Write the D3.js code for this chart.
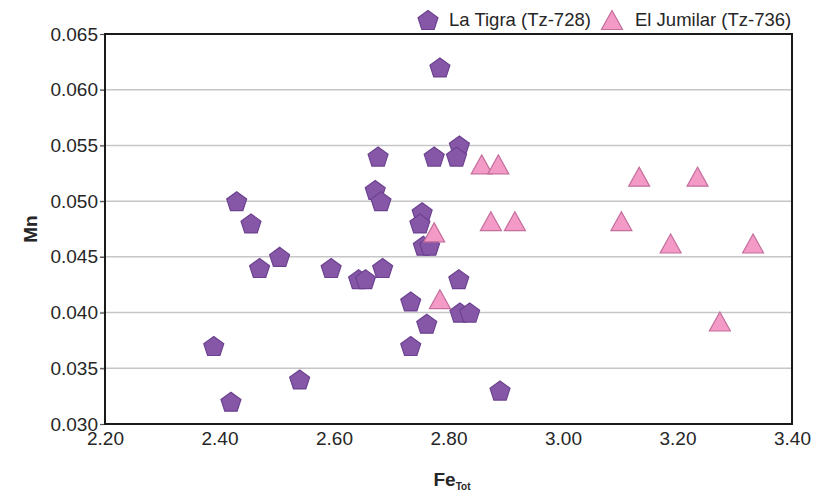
<!DOCTYPE html>
<html>
<head>
<meta charset="utf-8">
<script src="https://cdn.jsdelivr.net/npm/d3@7"></script>
<style>
  html, body { margin: 0; padding: 0; background: #fff; }
  svg { display: block; font-family: "Liberation Sans", Arial, sans-serif; }
</style>
</head>
<body>
<svg id="chart" width="820" height="496"></svg>
<script>
// ---- data ----
const laTigraFe = [2.39, 2.42, 2.43, 2.455, 2.47, 2.505, 2.54, 2.595, 2.643, 2.655, 2.685, 2.672, 2.682, 2.677,
                   2.734, 2.734, 2.785, 2.775, 2.819, 2.814, 2.754, 2.750, 2.756, 2.767, 2.818, 2.820, 2.837, 2.762, 2.890];
const laTigraMn = [0.037, 0.032, 0.050, 0.048, 0.044, 0.045, 0.034, 0.044, 0.043, 0.043, 0.044, 0.051, 0.050, 0.054,
                   0.041, 0.037, 0.062, 0.054, 0.055, 0.054, 0.049, 0.048, 0.046, 0.046, 0.043, 0.040, 0.040, 0.039, 0.033];
const jumilarFe = [2.858, 2.887, 3.133, 3.235, 2.874, 2.916, 3.102, 3.188, 3.332, 3.274, 2.775, 2.785];
const jumilarMn = [0.0533, 0.0533, 0.0522, 0.0522, 0.0482, 0.0482, 0.0482, 0.0462, 0.0462, 0.0392, 0.0472, 0.0412];
const xTicks = [2.20, 2.40, 2.60, 2.80, 3.00, 3.20, 3.40];
const yTicks = [0.030, 0.035, 0.040, 0.045, 0.050, 0.055, 0.060, 0.065];
const seriesNames = ["La Tigra (Tz-728)", "El Jumilar (Tz-736)"];

// ---- layout ----
const svg = d3.select("#chart");
const L = 105, R = 792, T = 34, B = 424;
const x = d3.scaleLinear().domain([2.2, 3.4]).range([L, R]);
const y = d3.scaleLinear().domain([0.030, 0.065]).range([B, T]);

const purpleFill = "#8757a7", purpleStroke = "#6c4290";
const pinkFill = "#f39ac7", pinkStroke = "#c46e9c";
const textCol = "#262626";

// gridlines
svg.append("g")
  .selectAll("line").data(yTicks.slice(1, -1)).join("line")
  .attr("x1", L - 5).attr("x2", R)
  .attr("y1", d => y(d)).attr("y2", d => y(d))
  .attr("stroke", "#c6c6c6").attr("stroke-width", 1.5);

// y axis
const yAxis = svg.append("g").attr("transform", `translate(${L},0)`)
  .call(d3.axisLeft(y).tickValues(yTicks).tickFormat(d3.format(".3f")).tickSize(5).tickPadding(2));
yAxis.select(".domain").remove();
yAxis.selectAll(".tick line").attr("stroke", "#555").attr("stroke-width", 1.2);
yAxis.selectAll("text").attr("font-size", 19).attr("fill", textCol)
  .attr("font-family", "'Liberation Sans', Arial, sans-serif");

// x axis
const xAxis = svg.append("g").attr("transform", `translate(0,${B})`)
  .call(d3.axisBottom(x).tickValues(xTicks).tickFormat(d3.format(".2f")).tickSize(0).tickPadding(8));
xAxis.select(".domain").remove();
xAxis.selectAll("text").attr("font-size", 19).attr("fill", textCol)
  .attr("font-family", "'Liberation Sans', Arial, sans-serif");

// frame
svg.append("rect").attr("x", L).attr("y", T).attr("width", R - L).attr("height", B - T)
  .attr("fill", "none").attr("stroke", "#1a1a1a").attr("stroke-width", 2);

// symbols
const pentagonPath = (r) => {
  const p = d3.path();
  for (let i = 0; i < 5; i++) {
    const a = -Math.PI / 2 + i * 2 * Math.PI / 5;
    if (i === 0) p.moveTo(r * Math.cos(a), r * Math.sin(a));
    else p.lineTo(r * Math.cos(a), r * Math.sin(a));
  }
  p.closePath();
  return p.toString();
};
const trianglePath = (w, h) => {
  const p = d3.path();
  p.moveTo(0, -h / 2); p.lineTo(w / 2, h / 2); p.lineTo(-w / 2, h / 2); p.closePath();
  return p.toString();
};

const tigra = laTigraFe.map((v, i) => ({ fe: v, mn: laTigraMn[i] }));
const jum = jumilarFe.map((v, i) => ({ fe: v, mn: jumilarMn[i] }));

svg.append("g").selectAll("path").data(tigra).join("path")
  .attr("d", pentagonPath(10.5))
  .attr("transform", d => `translate(${x(d.fe)},${y(d.mn) + 1})`)
  .attr("fill", purpleFill).attr("stroke", purpleStroke).attr("stroke-width", 1.2);

svg.append("g").selectAll("path").data(jum).join("path")
  .attr("d", trianglePath(21, 19))
  .attr("transform", d => `translate(${x(d.fe)},${y(d.mn)})`)
  .attr("fill", pinkFill).attr("stroke", pinkStroke).attr("stroke-width", 1.2);

// legend
const lg = svg.append("g");
lg.append("path").attr("d", pentagonPath(10.5)).attr("transform", "translate(428,21)")
  .attr("fill", purpleFill).attr("stroke", purpleStroke).attr("stroke-width", 1.2);
lg.append("text").attr("x", 449).attr("y", 26).attr("font-size", 18.5).attr("fill", textCol).text(seriesNames[0]);
lg.append("path").attr("d", trianglePath(21, 19)).attr("transform", "translate(612,20)")
  .attr("fill", pinkFill).attr("stroke", pinkStroke).attr("stroke-width", 1.2);
lg.append("text").attr("x", 635).attr("y", 26).attr("font-size", 18.5).attr("fill", textCol).text(seriesNames[1]);

// axis titles
svg.append("text").attr("transform", "translate(37,229) rotate(-90)")
  .attr("text-anchor", "middle").attr("font-size", 19).attr("font-weight", "bold").attr("fill", textCol)
  .text("Mn");
const xt = svg.append("text").attr("x", 452).attr("y", 486).attr("text-anchor", "middle")
  .attr("font-size", 19).attr("font-weight", "bold").attr("fill", textCol);
xt.append("tspan").text("Fe");
xt.append("tspan").attr("font-size", 10).attr("dy", 4).text("Tot");
</script>
</body>
</html>
